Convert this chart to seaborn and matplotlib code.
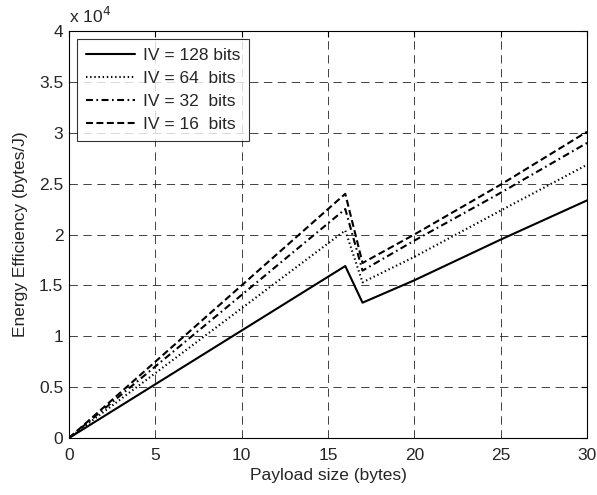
import matplotlib
matplotlib.use("Agg")
import matplotlib.pyplot as plt
import seaborn as sns
import pandas as pd

payload = [0, 16, 17, 20, 25, 30]
iv128 = [0, 1.69e4, 1.33e4, 1.55e4, 1.95e4, 2.335e4]
iv64 = [0, 2.04e4, 1.53e4, 1.78e4, 2.235e4, 2.685e4]
iv32 = [0, 2.25e4, 1.645e4, 1.94e4, 2.41e4, 2.90e4]
iv16 = [0, 2.40e4, 1.72e4, 2.00e4, 2.49e4, 3.01e4]
labels = ["IV = 128 bits", "IV = 64  bits", "IV = 32  bits", "IV = 16  bits"]
xticks = [0, 5, 10, 15, 20, 25, 30]
yticks = [0, 0.5e4, 1e4, 1.5e4, 2e4, 2.5e4, 3e4, 3.5e4, 4e4]
ytick_labels = ["0", "0.5", "1", "1.5", "2", "2.5", "3", "3.5", "4"]

sns.set_style("white")
plt.rcParams["font.family"] = ["Liberation Sans", "DejaVu Sans"]
plt.rcParams["lines.scale_dashes"] = False

FS = 12.5
fig = plt.figure(figsize=(5.97, 4.95), dpi=100)
ax = fig.add_axes([69 / 597, 1 - 438 / 495, 518 / 597, 407 / 495])

styles = ["-", (0, (1, 2)), (0, (5, 2.5, 1.2, 2.5)), (0, (5, 2.5))]
series = [iv128, iv64, iv32, iv16]
for vals, lab, ls in zip(series, labels, styles):
    df = pd.DataFrame({"x": payload, "y": vals})
    sns.lineplot(data=df, x="x", y="y", ax=ax, color="black", linewidth=1.5,
                 linestyle=ls, label=lab)

ax.set_xlim(0, 30)
ax.set_ylim(0, 4e4)
ax.set_xticks(xticks)
ax.set_yticks(yticks)
ax.set_yticklabels(ytick_labels)
ax.tick_params(direction="in", length=4, labelsize=FS, color="black",
               top=True, right=True)
ax.tick_params(axis="x", pad=7)
ax.tick_params(axis="y", pad=4)
ax.grid(True, color="#222222", linestyle=(0, (6, 4)), linewidth=0.6)
for s in ax.spines.values():
    s.set_color("black")
    s.set_linewidth(0.8)
ax.set_xlabel("Payload size (bytes)", fontsize=FS, labelpad=4)
ax.set_ylabel("Energy Efficiency (bytes/J)", fontsize=FS, labelpad=8)
ax.text(0, 1.012, r"x 10$^{4}$", transform=ax.transAxes, fontsize=FS,
        ha="left", va="bottom")

leg = ax.legend(loc="upper left", bbox_to_anchor=(0.016, 0.98), fontsize=FS,
                frameon=True, fancybox=False, edgecolor="black",
                handlelength=2.8, handletextpad=0.5, labelspacing=0.45,
                borderpad=0.5, borderaxespad=0)
leg.get_frame().set_linewidth(0.8)

fig.savefig("out.png", dpi=100)
